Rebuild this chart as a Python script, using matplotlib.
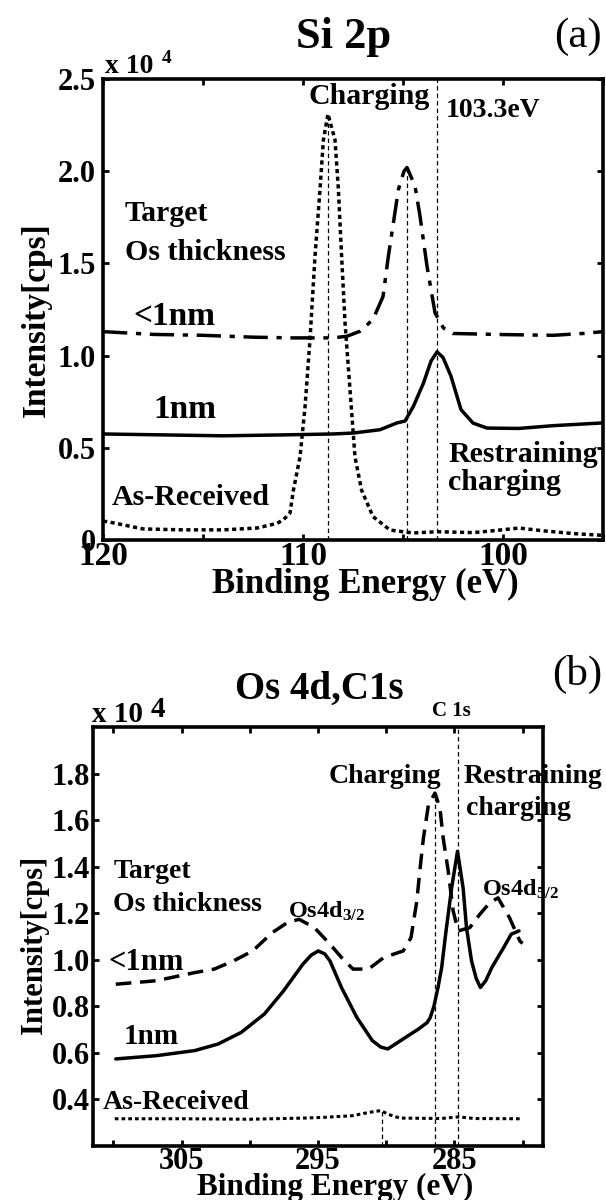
import matplotlib
matplotlib.use("Agg")
import matplotlib.pyplot as plt

# ---- Si 2p spectra (binding energy eV, intensity x1e4 cps) ----
si_as_e = [120, 119.8, 118, 116, 114, 112.3, 111.3, 110.98, 110.65, 110.48, 110.15, 109.9, 109.65, 109.4,
           109.15, 108.98, 108.75, 108.4, 108.23, 108.07, 107.9, 107.65, 107.4, 107.07, 106.5, 105.65,
           104.5, 103.3, 101.5, 100.5, 99.2, 98.0, 96.5, 95.0]
si_as_i = [0.10, 0.10, 0.06, 0.055, 0.055, 0.065, 0.09, 0.11, 0.146, 0.27, 0.45, 0.72, 1.087, 1.54,
           1.90, 2.17, 2.31, 2.17, 1.90, 1.54, 1.18, 0.815, 0.45, 0.27, 0.127, 0.054,
           0.038, 0.045, 0.04, 0.05, 0.065, 0.05, 0.035, 0.025]
si_1nm_e = [120, 117, 114, 111, 108.5, 107.5, 106.15, 105.3, 104.9, 104.48, 103.98, 103.6, 103.3,
            103.0, 102.6, 102.1, 101.5, 100.8, 99.2, 97.5, 95.0]
si_1nm_i = [0.575, 0.57, 0.565, 0.57, 0.575, 0.58, 0.598, 0.635, 0.645, 0.725, 0.85, 0.97, 1.02,
            0.99, 0.888, 0.707, 0.634, 0.607, 0.605, 0.62, 0.635]
si_sub_e = [120, 117.5, 115, 112.5, 110.5, 108.5, 107.8, 107.15, 106.5, 106.0, 105.73, 105.48, 105.23,
            104.95, 104.8, 104.4, 104.15, 103.8, 103.4, 102.98, 102.5, 100, 97.5, 96, 95]
si_sub_i = [1.13, 1.115, 1.11, 1.10, 1.096, 1.096, 1.105, 1.132, 1.196, 1.32, 1.54, 1.72, 1.90,
            2.0, 2.02, 1.92, 1.757, 1.485, 1.232, 1.15, 1.12, 1.114, 1.11, 1.12, 1.13]
si_mark_e = [108.75, 104.8]
si_mark_top = [2.31, 2.02]
si_ref_e = 103.3
si_xticks = [120, 115, 110, 105, 100, 95]
si_xlabels = ["120", "", "110", "", "100", ""]
si_yticks = [0, 0.5, 1.0, 1.5, 2.0, 2.5]
si_ylabels = ["0", "0.5", "1.0", "1.5", "2.0", "2.5"]

# ---- Os 4d / C 1s spectra ----
os_1nm_e = [309.83, 306.86, 304.03, 302.33, 300.63, 298.93, 297.52, 296.11, 295.5, 294.98, 294.5, 294.12,
            293.28, 292.15, 291.02, 290.4, 289.88, 288.75, 287.62, 287.0, 286.77, 286.5, 286.2, 285.93,
            285.64, 285.2, 284.77, 284.36, 284.11, 283.74, 283.4, 283.09, 282.7, 282.25, 281.39, 280.83,
            280.26]
os_1nm_i = [0.574, 0.588, 0.61, 0.638, 0.688, 0.767, 0.867, 0.981, 1.02, 1.038, 1.025, 0.995,
            0.881, 0.752, 0.653, 0.625, 0.617, 0.66, 0.703, 0.73, 0.752, 0.80, 0.881, 0.967,
            1.11, 1.309, 1.466, 1.309, 1.138, 0.995, 0.92, 0.881, 0.91, 0.967, 1.052, 1.11,
            1.124]
os_sub_e = [309.83, 306.86, 304.03, 302.61, 301.2, 299.79, 298.37, 297.24, 296.39, 295.26, 294.12,
            293.28, 292.43, 291.3, 290.17, 288.75, 288.18, 287.76, 287.5, 287.27, 286.9, 286.42,
            286.06, 285.82, 285.45, 285.09, 284.72, 283.87, 283.14, 282.4, 281.8, 280.95, 280.2, 280.0]
os_sub_i = [0.895, 0.91, 0.945, 0.96, 0.995, 1.038, 1.116, 1.16, 1.174, 1.138, 1.067,
            1.01, 0.96, 0.96, 1.01, 1.038, 1.095, 1.25, 1.40, 1.523, 1.666, 1.716,
            1.652, 1.523, 1.381, 1.21, 1.124, 1.138, 1.195, 1.245, 1.266, 1.18, 1.081, 1.07]
os_as_e = [309.9, 305, 300, 296, 294.6, 292.5, 291.2, 290.4, 289.8, 289, 286, 284.7, 283.5, 280.2]
os_as_i = [0.317, 0.317, 0.315, 0.32, 0.323, 0.33, 0.345, 0.352, 0.335, 0.32, 0.318, 0.325, 0.318, 0.317]
os_mark_e = [290.3, 286.45]
os_mark_top = [0.352, 1.716]
os_ref_e = 284.72
os_xticks = [310, 305, 300, 295, 290, 285, 280]
os_xlabels = ["", "305", "", "295", "", "285", ""]
os_yticks = [0.4, 0.6, 0.8, 1.0, 1.2, 1.4, 1.6, 1.8]
os_ylabels = ["0.4", "0.6", "0.8", "1.0", "1.2", "1.4", "1.6", "1.8"]

plt.rcParams.update({"font.family": "Liberation Serif", "font.weight": "bold",
                     "axes.labelweight": "bold",
                     "mathtext.fontset": "custom", "mathtext.rm": "Liberation Serif:bold",
                     "mathtext.it": "Liberation Serif:bold", "mathtext.bf": "Liberation Serif:bold"})

DOT = (0, (1.2, 1.0))
DASHDOT = (0, (7, 2.5, 1.5, 2.5))
DASH = (0, (4.5, 2.5))
VDASH = (0, (3.5, 2.5))
LW = 2.5

fig = plt.figure(figsize=(6.06, 12.0), dpi=100)


def frame(ax, xticks, xlabels, yticks, ylabels, xfs, yfs, xpad, ypad):
    for s in ax.spines.values():
        s.set_linewidth(2.6)
    ax.set_xticks(xticks)
    ax.set_xticklabels(xlabels)
    ax.set_yticks(yticks)
    ax.set_yticklabels(ylabels)
    ax.tick_params(axis="both", direction="in", length=4, width=2, top=True, right=True)
    ax.tick_params(axis="x", labelsize=xfs, pad=xpad)
    ax.tick_params(axis="y", labelsize=yfs, pad=ypad)


# ---------- (a) Si 2p ----------
ax = fig.add_axes([103 / 606, 1 - 540 / 1200, 500 / 606, 461 / 1200])
ax.plot(si_as_e, si_as_i, color="k", lw=LW, ls=DOT, dash_capstyle="butt")
ax.plot(si_1nm_e, si_1nm_i, color="k", lw=LW, solid_capstyle="round")
ax.plot(si_sub_e, si_sub_i, color="k", lw=LW, ls=DASHDOT, dash_capstyle="butt")
ax.vlines(si_mark_e, 0, si_mark_top, color="k", lw=0.9, ls=VDASH)
ax.axvline(si_ref_e, color="k", lw=0.9, ls=VDASH)
ax.set_xlim(120, 95)
ax.set_ylim(0, 2.5)
frame(ax, si_xticks, si_xlabels, si_yticks, si_ylabels, 24, 22, 1, 5)
ax.set_xlabel("Binding Energy (eV)", fontsize=25, labelpad=-3)
ax.xaxis.label.set_x(0.524)
ax.set_ylabel("Intensity[cps]", fontsize=24, labelpad=4)
ax.yaxis.label.set_y(0.477)

ax.text(0.482, 1.067, "Si 2p", transform=ax.transAxes, fontsize=32, ha="center", va="baseline")
ax.text(0.902, 1.069, "(a)", transform=ax.transAxes, fontsize=31, fontweight="normal", va="baseline")
ax.text(0.004, 1.013, "x 10", transform=ax.transAxes, fontsize=20, va="baseline")
ax.text(0.118, 1.035, "4", transform=ax.transAxes, fontsize=14, va="baseline")

txt = dict(fontsize=21.5, va="baseline", ha="left")
ax.text(109.75, 2.364, "Charging", **txt)
ax.text(102.85, 2.293, "103.3eV", fontsize=20, va="baseline")
ax.text(118.9, 1.728, "Target", **txt)
ax.text(118.9, 1.516, "Os thickness", **txt)
ax.text(118.5, 1.168, "<1nm", fontsize=24, va="baseline")
ax.text(117.5, 0.663, "1nm", fontsize=24, va="baseline")
ax.text(102.75, 0.424, "Restraining", **txt)
ax.text(102.75, 0.272, "charging", **txt)
ax.text(119.55, 0.19, "As-Received", **txt)

# ---------- (b) Os 4d, C 1s ----------
ax = fig.add_axes([93 / 606, 1 - 1146 / 1200, 450 / 606, 419 / 1200])
ax.plot(os_as_e, os_as_i, color="k", lw=2.2, ls=DOT, dash_capstyle="butt")
ax.plot(os_1nm_e, os_1nm_i, color="k", lw=LW, solid_capstyle="round")
ax.plot(os_sub_e, os_sub_i, color="k", lw=LW, ls=DASH, dash_capstyle="butt")
ax.vlines(os_mark_e, 0.2, os_mark_top, color="k", lw=0.9, ls=VDASH)
ax.axvline(os_ref_e, color="k", lw=0.9, ls=VDASH)
ax.set_xlim(311.5, 278.5)
ax.set_ylim(0.2, 2.0)
frame(ax, os_xticks, os_xlabels, os_yticks, os_ylabels, 22, 22, 0.5, 2)
ax.set_xlabel("Binding Energy (eV)", fontsize=22.5, labelpad=-2)
ax.xaxis.label.set_x(0.538)
ax.set_ylabel("Intensity[cps]", fontsize=22, labelpad=2)
ax.yaxis.label.set_y(0.48)

ax.text(0.504, 1.067, "Os 4d,C1s", transform=ax.transAxes, fontsize=28, ha="center", va="baseline")
ax.text(1.02, 1.100, "(b)", transform=ax.transAxes, fontsize=31, fontweight="normal", va="baseline")
ax.text(-0.002, 1.012, "x 10", transform=ax.transAxes, fontsize=21, va="baseline")
ax.text(0.127, 1.024, "4", transform=ax.transAxes, fontsize=21, va="baseline")
ax.text(0.753, 1.026, "C 1s", transform=ax.transAxes, fontsize=15, va="baseline")

txt = dict(fontsize=20, va="baseline", ha="left", zorder=2)
ax.text(294.25, 1.758, "Charging", **txt)
ax.text(284.29, 1.758, "Restraining", **txt)
ax.text(284.14, 1.62, "charging", **txt)
ax.text(310.0, 1.351, "Target", **txt)
ax.text(310.0, 1.209, "Os thickness", **txt)
ax.text(297.18, 1.179, r"Os4d$_{\mathrm{3/2}}$", fontsize=17.5, va="baseline")
ax.text(282.97, 1.274, r"Os4d$_{\mathrm{5/2}}$", fontsize=17.5, va="baseline")
ax.text(310.37, 0.957, "<1nm", fontsize=22, va="baseline")
ax.text(309.27, 0.64, "1nm", fontsize=21, va="baseline")
ax.text(310.81, 0.361, "As-Received", **txt)

fig.savefig("out.png", dpi=100)
